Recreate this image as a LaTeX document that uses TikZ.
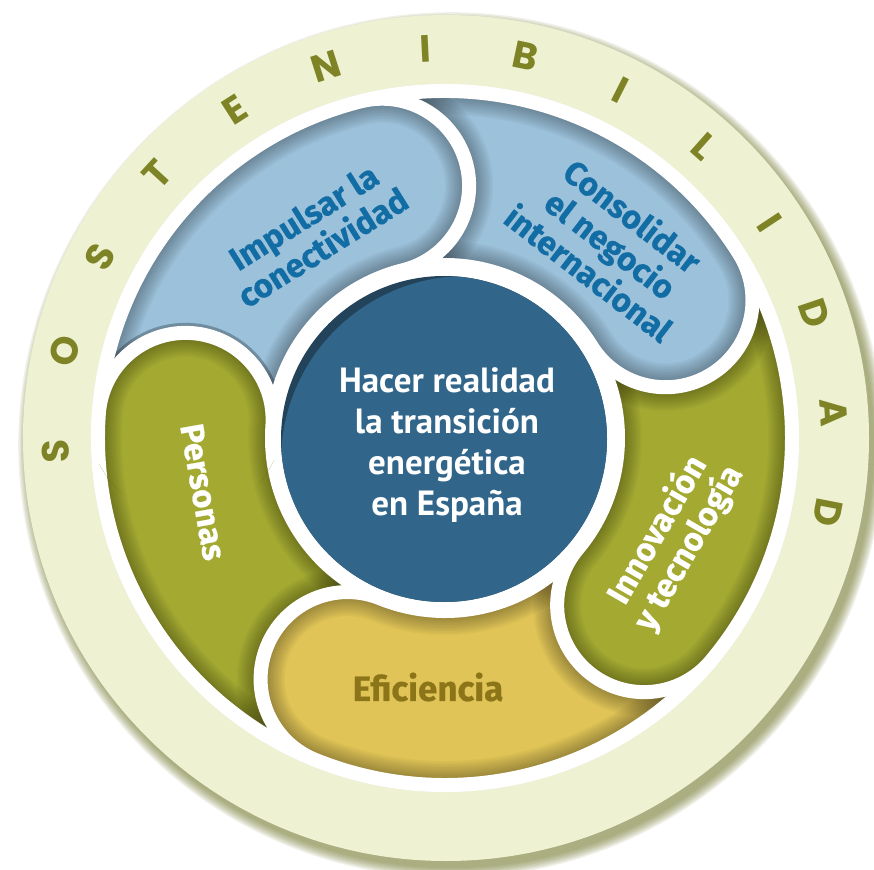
\documentclass[tikz,border=0pt]{standalone}
\usepackage{fontspec}
\setmainfont{Fira Sans}
\newfontfamily\lblfont{Fira Sans}[BoldFeatures={FakeBold=0.6}]
\newfontfamily\ctrfont{PT Sans}
\newfontfamily\ringfont{Poppins}
\definecolor{cream}{HTML}{EFF1D3}
\definecolor{olivetxt}{HTML}{7E8326}
\definecolor{shadowol}{HTML}{6B7224}
\definecolor{lblue}{HTML}{9CC1DA}
\definecolor{btxt}{HTML}{136DA5}
\definecolor{olivefill}{HTML}{A4AA31}
\definecolor{yel}{HTML}{E0C457}
\definecolor{eftxt}{HTML}{8C7519}
\definecolor{cmain}{HTML}{31668A}
\definecolor{cdark}{HTML}{23435A}
\pgfdeclareradialshading{ctrshade}{\pgfpoint{0bp}{0bp}}{color(0bp)=(cmain); color(37bp)=(cmain); color(47bp)=(cdark); color(50bp)=(cdark)}
\newcommand{\blobpath}[1]{({#1+72}:347) arc[start angle={#1+72}, end angle={#1}, radius=347pt] arc[start angle={#1}, end angle={#1-180}, radius=87pt] arc[start angle={#1}, end angle={#1+72}, radius=173pt] -- cycle}
\newcommand{\blobshade}[1]{%
  \foreach \w in {16,20,...,48} \draw[black, opacity=0.034, line width=\w pt] \blobpath{#1};}
\newcommand{\drawblob}[2]{%
  \begin{scope}[even odd rule]
    \clip (0,0) circle[radius=340pt] (0,0) circle[radius=180pt];
    \blobshade{#1}
  \end{scope}
  \fill[#2] \blobpath{#1};
  \begin{scope}
    \clip \blobpath{#1};
    \blobshade{#1}
  \end{scope}
  \draw[white, line width=14pt, line join=round] \blobpath{#1};
}
\begin{document}
\begin{tikzpicture}[x=1pt,y=1pt,
  letter/.style={text=olivetxt, font=\ringfont\bfseries\fontsize{38}{38}\selectfont, inner sep=0pt},
  bluelabel/.style={text=btxt, align=center, font=\lblfont\bfseries\fontsize{33}{36}\selectfont, inner sep=0pt},
  whitelabel/.style={text=white, align=center, font=\lblfont\bfseries\fontsize{33}{36}\selectfont, inner sep=0pt},
  ctrlabel/.style={text=white, align=center, font=\ctrfont\bfseries\fontsize{35}{41}\selectfont, inner sep=0pt}]
\useasboundingbox (-445,-431) rectangle (429,438);
% outer ring with drop shadow
\foreach \k in {0,...,7} \fill[shadowol, opacity=0.10] (6,-7) circle[radius={423pt+1.4pt*\k}];
\fill[cream] (1,0) circle[radius=423pt];
% SOSTENIBILIDAD
\foreach \l [count=\i from 0] in {S,O,S,T,E,N,I,B,I,L,I,D,A,D}
  \node[letter, rotate={182-14.85*\i-90}] (let\i) at ({182-14.85*\i}:390) {\l};
% white band
\fill[white] (0,0) circle[radius=354pt];
\begin{scope}
  \clip (0,0) circle[radius=354pt];
  \draw[black, opacity=0.04, line width=12pt] (0,0) circle[radius=354pt];
  \draw[black, opacity=0.04, line width=6pt] (0,0) circle[radius=354pt];
\end{scope}
% blobs (Personas, Eficiencia, Innovacion, Consolidar, Impulsar)
\drawblob{176}{olivefill}
\drawblob{-112}{yel}
\drawblob{-40}{olivefill}
\drawblob{32}{lblue}
\drawblob{104}{lblue}
\begin{scope}
  \clip (176:260) circle[radius=97pt];
  \drawblob{176}{olivefill}
\end{scope}
% central circle
\fill[cdark] (-1,-1) circle[radius=163pt];
\begin{scope}
  \clip (-1,-1) circle[radius=163pt];
  \shade[shading=ctrshade] (21,-23) circle[radius=185pt];
\end{scope}
% labels
\node[ctrlabel] (ctr) at (2,-7) {Hacer realidad\\la transición\\energética\\en España};
\node[bluelabel, rotate=32] (imp) at (-132,206) {Impulsar la\\conectividad};
\node[bluelabel, rotate=-37.5] (con) at (166,194) {Consolidar\\el negocio\\internacional};
\node[whitelabel, rotate=60] (inn) at (228,-101) {Innovación\\y tecnología};
\node[whitelabel, rotate=-80] (per) at (-242,-54) {Personas};
\node[text=eftxt, font=\lblfont\bfseries\fontsize{35}{38}\selectfont, inner sep=0pt] (efi) at (-17,-249) {Eficiencia};
\end{tikzpicture}
\end{document}
